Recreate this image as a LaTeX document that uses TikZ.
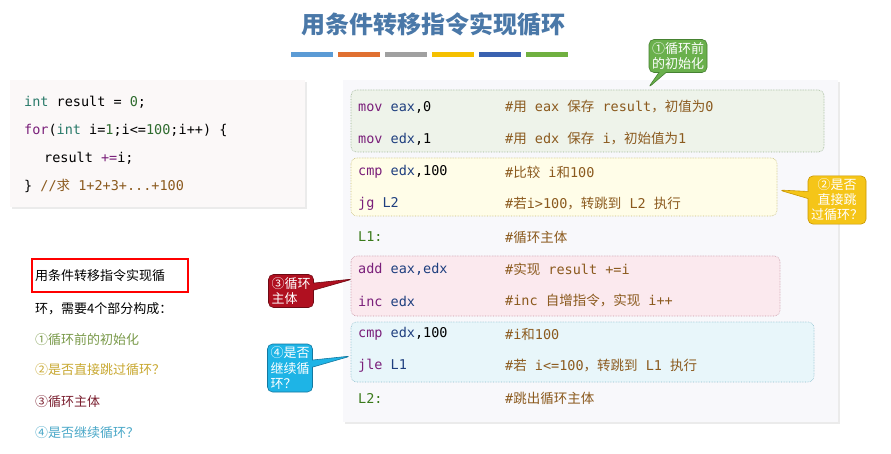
\documentclass[tikz,border=0pt]{standalone}
\usepackage{fontspec}
\setmainfont{Noto Sans CJK SC}
\setmonofont{DejaVu Sans Mono}
\newfontfamily\cjk{Noto Sans CJK SC}
\usetikzlibrary{shapes.callouts}
\newcommand{\cj}[1]{{\cjk #1}}
\definecolor{titleblue}{HTML}{4A78A8}
\definecolor{mn}{HTML}{7A1F7A}
\definecolor{rg}{HTML}{1F3F7F}
\definecolor{cm}{HTML}{8B5A1E}
\definecolor{lb}{HTML}{3A7A1A}
\definecolor{nm}{HTML}{2E6B2E}
\definecolor{kw}{HTML}{2A7A6A}
\definecolor{lbg}{HTML}{FBF8F8}
\definecolor{rbg}{HTML}{F8F8FB}
\definecolor{gD}{HTML}{96AF8C}\definecolor{gF}{HTML}{EEF3EA}
\definecolor{yD}{HTML}{C8BE78}\definecolor{yF}{HTML}{FFFDE8}
\definecolor{pD}{HTML}{C896A5}\definecolor{pF}{HTML}{FBE9EE}
\definecolor{bD}{HTML}{8CBECD}\definecolor{bF}{HTML}{E8F6FA}
\definecolor{k1f}{HTML}{6AB04C}\definecolor{k1d}{HTML}{468232}
\definecolor{k2f}{HTML}{F5C518}\definecolor{k2d}{HTML}{C89600}
\definecolor{k3f}{HTML}{B01020}\definecolor{k3d}{HTML}{6E0A14}
\definecolor{k4f}{HTML}{1EB4E6}\definecolor{k4d}{HTML}{1478A0}
\definecolor{t3c}{HTML}{7A9A4A}
\definecolor{t4c}{HTML}{C8A830}
\definecolor{t5c}{HTML}{7B2030}
\definecolor{t6c}{HTML}{4AA8C8}
\tikzset{
 code/.style={anchor=west,inner sep=0pt,font=\ttfamily\fontsize{13.5}{15}\selectfont},
 ltxt/.style={anchor=west,inner sep=0pt,font=\fontsize{13}{15}\selectfont},
 grp/.style={rounded corners=6pt,densely dotted,line width=0.6pt},
 call/.style={rectangle callout,rounded corners=5pt,text=white,align=left,inner sep=3pt,font=\fontsize{13}{15}\selectfont,line width=0.6pt},
}
\begin{document}
\begin{tikzpicture}[x=1pt,y=-1pt]
\useasboundingbox (0,0) rectangle (891,454);
\fill[white] (0,0) rectangle (891,454);
\node[font=\fontsize{24}{28}\selectfont\bfseries,text=titleblue] (title) at (433,24) {用条件转移指令实现循环};
\foreach \c [count=\i from 0] in {5B9BD5,E07030,A0A0A0,F5C000,3A62B0,70B040}{
  \definecolor{bc}{HTML}{\c}
  \fill[bc] ({291+\i*47},52) rectangle ({333+\i*47},57);
}
% left code box
\fill[black!8] (12,82) rectangle (307,209);
\fill[lbg] (10,80) rectangle (305,207);
\node[code] (c1) at (24,102) {\textcolor{kw}{int} result = \textcolor{nm}{0};};
\node[code] (c2) at (24,130) {\textcolor{mn}{for}(\textcolor{kw}{int} i=\textcolor{nm}{1};i<=\textcolor{nm}{100};i++) \{};
\node[code] (c3) at (44,158) {result \textcolor{mn}{+=}i;};
\node[code] (c4) at (24,186) {\} \textcolor{cm}{//\cj{求} 1+2+3+...+100}};
% right panel
\fill[black!8] (345,82) rectangle (840,424);
\fill[rbg] (343,80) rectangle (838,422);
\draw[grp,draw=gD,fill=gF] (351,90) rectangle (824,152);
\draw[grp,draw=yD,fill=yF] (351,158) rectangle (777,216);
\draw[grp,draw=pD,fill=pF] (351,256) rectangle (780,316);
\draw[grp,draw=bD,fill=bF] (351,322) rectangle (814,382);
\foreach \n/\y/\a/\b in {
 m1/107/{\textcolor{mn}{mov} \textcolor{rg}{eax},0}/{\#\cj{用} eax \cj{保存} result\cj{，初值为}0},
 m2/139/{\textcolor{mn}{mov} \textcolor{rg}{edx},1}/{\#\cj{用} edx \cj{保存} i\cj{，初始值为}1},
 m3/172/{\textcolor{mn}{cmp} \textcolor{rg}{edx},100}/{\#\cj{比较} i\cj{和}100},
 m4/204/{\textcolor{mn}{jg} \textcolor{rg}{L2}}/{\#\cj{若}i>100\cj{，转跳到} L2 \cj{执行}},
 m5/237/{\textcolor{lb}{L1:}}/{\#\cj{循环主体}},
 m6/269/{\textcolor{mn}{add} \textcolor{rg}{eax,edx}}/{\#\cj{实现} result +=i},
 m7/301/{\textcolor{mn}{inc} \textcolor{rg}{edx}}/{\#inc \cj{自增指令，实现} i++},
 m8/334/{\textcolor{mn}{cmp} \textcolor{rg}{edx},100}/{\#i\cj{和}100},
 m9/366/{\textcolor{mn}{jle} \textcolor{rg}{L1}}/{\#\cj{若} i<=100\cj{，转跳到} L1 \cj{执行}},
 m10/398/{\textcolor{lb}{L2:}}/{\#\cj{跳出循环主体}}}{
  \node[code] (\n a) at (358,\y) {\a};
  \node[code,text=cm] (\n b) at (505,\y) {\b};
}
% callouts
\coordinate (p1) at (648,88);
\coordinate (p2) at (779,190);
\coordinate (p3) at (353,279);
\coordinate (p4) at (351,356);
\node[call,fill=k1f,draw=k1d,callout absolute pointer=(p1)] (k1) at (678,56) {①循环前\\的初始化};
\node[call,fill=k2f,draw=k2d,callout absolute pointer=(p2),align=center] (k2) at (837,200) {②是否\\直接跳\\过循环？};
\node[call,fill=k3f,draw=k3d,callout absolute pointer=(p3)] (k3) at (291,291) {③循环\\主体\hspace{2em}};
\node[call,fill=k4f,draw=k4d,callout absolute pointer=(p4)] (k4) at (290,368) {④是否\\继续循\\环？};
% left text
\node[ltxt] (t1) at (35,276) {用条件转移指令实现循};
\draw[red,line width=1.2pt] (32,259) rectangle (188,292);
\node[ltxt] (t2) at (35,309) {环，需要4个部分构成：};
\node[ltxt,text=t3c] (t3) at (35,340) {①循环前的初始化};
\node[ltxt,text=t4c] (t4) at (35,370) {②是否直接跳过循环？};
\node[ltxt,text=t5c] (t5) at (35,402) {③循环主体};
\node[ltxt,text=t6c] (t6) at (35,433) {④是否继续循环？};
\end{tikzpicture}
\end{document}
